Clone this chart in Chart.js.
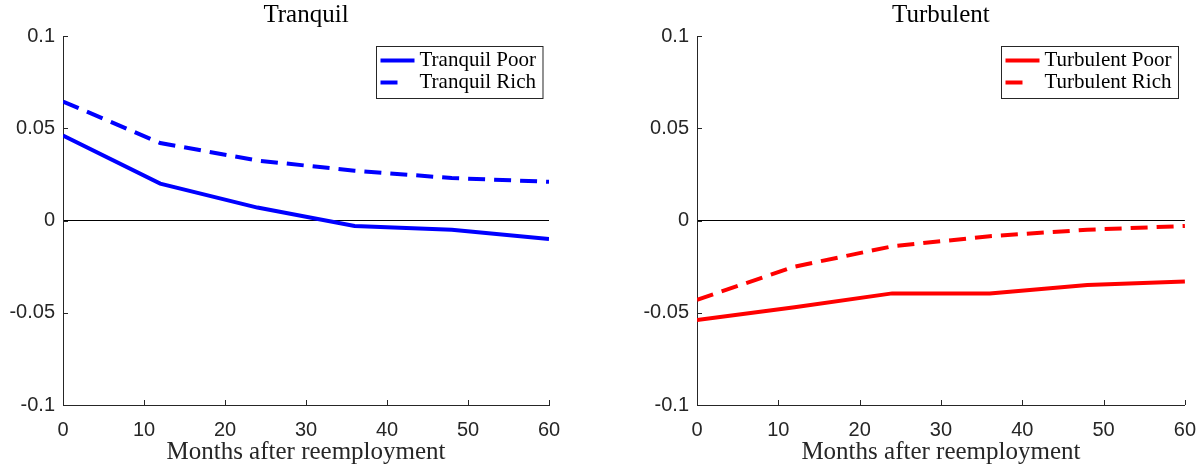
<!DOCTYPE html>
<html>
<head>
<meta charset="utf-8">
<script src="https://cdn.jsdelivr.net/npm/chart.js@4.4.1/dist/chart.umd.min.js"></script>
<style>
  body { margin: 0; background: #fff; }
  #wrap { position: relative; width: 1201px; height: 470px; }
  canvas { position: absolute; top: 0; }
</style>
</head>
<body>
<div id="wrap">
  <canvas id="left" width="600" height="470" style="left:0"></canvas>
  <canvas id="right" width="601" height="470" style="left:600px"></canvas>
</div>
<script>
// months after reemployment, one point per year
var months = [0, 12, 24, 36, 48, 60];
var tranquilPoor = [0.046, 0.020, 0.007, -0.003, -0.005, -0.010];
var tranquilRich = [0.0645, 0.042, 0.0325, 0.027, 0.023, 0.021];
var turbulentPoor = [-0.054, -0.047, -0.0395, -0.0395, -0.035, -0.033];
var turbulentRich = [-0.043, -0.025, -0.014, -0.0085, -0.005, -0.003];
var xTicks = [0, 10, 20, 30, 40, 50, 60];
var yTicks = [-0.1, -0.05, 0, 0.05, 0.1];

var axisColor = '#262626';
var serif = '"Liberation Serif", "DejaVu Serif", serif';
var sans = '"Liberation Sans", Arial, sans-serif';

function pts(ys) {
  return months.map(function (m, i) { return {x: m, y: ys[i]}; });
}

// MATLAB style ticks pointing into the plot
var innerTicks = {
  id: 'innerTicks',
  afterDraw: function (chart) {
    var c = chart.ctx, a = chart.chartArea;
    var xs = chart.scales.x, ys = chart.scales.y;
    c.save();
    c.strokeStyle = axisColor;
    c.lineWidth = 1;
    c.beginPath();
    xTicks.forEach(function (v) {
      var px = Math.round(xs.getPixelForValue(v)) + 0.5;
      c.moveTo(px, a.bottom); c.lineTo(px, a.bottom - 5);
    });
    yTicks.forEach(function (v) {
      var py = Math.round(ys.getPixelForValue(v)) + 0.5;
      c.moveTo(a.left, py); c.lineTo(a.left + 5, py);
    });
    c.stroke();
    c.restore();
  }
};

// boxed legend in the top right corner of the plot
var boxLegend = {
  id: 'boxLegend',
  afterDraw: function (chart) {
    var c = chart.ctx, a = chart.chartArea;
    var sets = chart.data.datasets;
    c.save();
    c.font = '21px ' + serif;
    var tw = 0;
    sets.forEach(function (d) { tw = Math.max(tw, c.measureText(d.label).width); });
    var w = 4 + 34 + 5 + tw + 7, h = 52;
    var x0 = Math.round(a.right - 7 - w) + 0.5, y0 = Math.round(a.top + 10) + 0.5;
    c.fillStyle = '#fff';
    c.fillRect(x0, y0, w, h);
    c.strokeStyle = axisColor;
    c.lineWidth = 1;
    c.strokeRect(x0, y0, w, h);
    sets.forEach(function (d, i) {
      var cy = y0 + 14 + i * 22;
      c.strokeStyle = d.borderColor;
      c.lineWidth = 4;
      c.beginPath();
      c.moveTo(x0 + 4, cy);
      // dashed sample only shows its first dash, as in the original
      c.lineTo(x0 + (d.borderDash ? 4 + d.borderDash[0] : 38), cy);
      c.stroke();
      c.fillStyle = '#000';
      c.textBaseline = 'middle';
      c.fillText(d.label, x0 + 43, cy);
    });
    c.restore();
  }
};

function makeChart(id, title, names, poor, rich, color, leftW, padRight) {
  return new Chart(document.getElementById(id), {
    type: 'line',
    data: {
      datasets: [
        {label: names[0], data: pts(poor), borderColor: color, borderWidth: 4, pointRadius: 0, tension: 0},
        {label: names[1], data: pts(rich), borderColor: color, borderWidth: 4, borderDash: [17, 9], pointRadius: 0, tension: 0}
      ]
    },
    options: {
      responsive: false,
      animation: false,
      layout: {padding: {left: 0, right: padRight, top: 0, bottom: 0}},
      plugins: {
        legend: {display: false},
        tooltip: {enabled: false},
        title: {
          display: true, text: title, color: '#000', fullSize: false,
          font: {family: serif, size: 25, weight: 'normal'},
          padding: {top: 0, bottom: 6}
        }
      },
      scales: {
        x: {
          type: 'linear', min: 0, max: 60,
          afterFit: function (s) { s.height = 65; },
          afterBuildTicks: function (s) { s.ticks = xTicks.map(function (v) { return {value: v}; }); },
          grid: {display: false},
          border: {display: true, color: axisColor, width: 1},
          ticks: {color: axisColor, font: {family: sans, size: 20}, padding: 5, maxRotation: 0},
          title: {display: true, text: 'Months after reemployment', color: '#262626',
                  font: {family: serif, size: 25}, padding: {top: 0, bottom: 3}}
        },
        y: {
          min: -0.1, max: 0.1,
          afterFit: function (s) { s.width = leftW; },
          afterBuildTicks: function (s) { s.ticks = yTicks.map(function (v) { return {value: v}; }); },
          grid: {
            drawTicks: false, lineWidth: 1,
            color: function (ctx) { return ctx.tick && ctx.tick.value === 0 ? '#000' : 'rgba(0,0,0,0)'; }
          },
          border: {display: true, color: axisColor, width: 1},
          ticks: {
            color: axisColor, font: {family: sans, size: 20}, padding: 8,
            callback: function (v) { return String(Math.round(v * 100) / 100); }
          }
        }
      }
    },
    plugins: [innerTicks, boxLegend]
  });
}

makeChart('left', 'Tranquil', ['Tranquil Poor', 'Tranquil Rich'], tranquilPoor, tranquilRich, '#0000ff', 63, 51);
makeChart('right', 'Turbulent', ['Turbulent Poor', 'Turbulent Rich'], turbulentPoor, turbulentRich, '#ff0000', 97, 15);
</script>
</body>
</html>
